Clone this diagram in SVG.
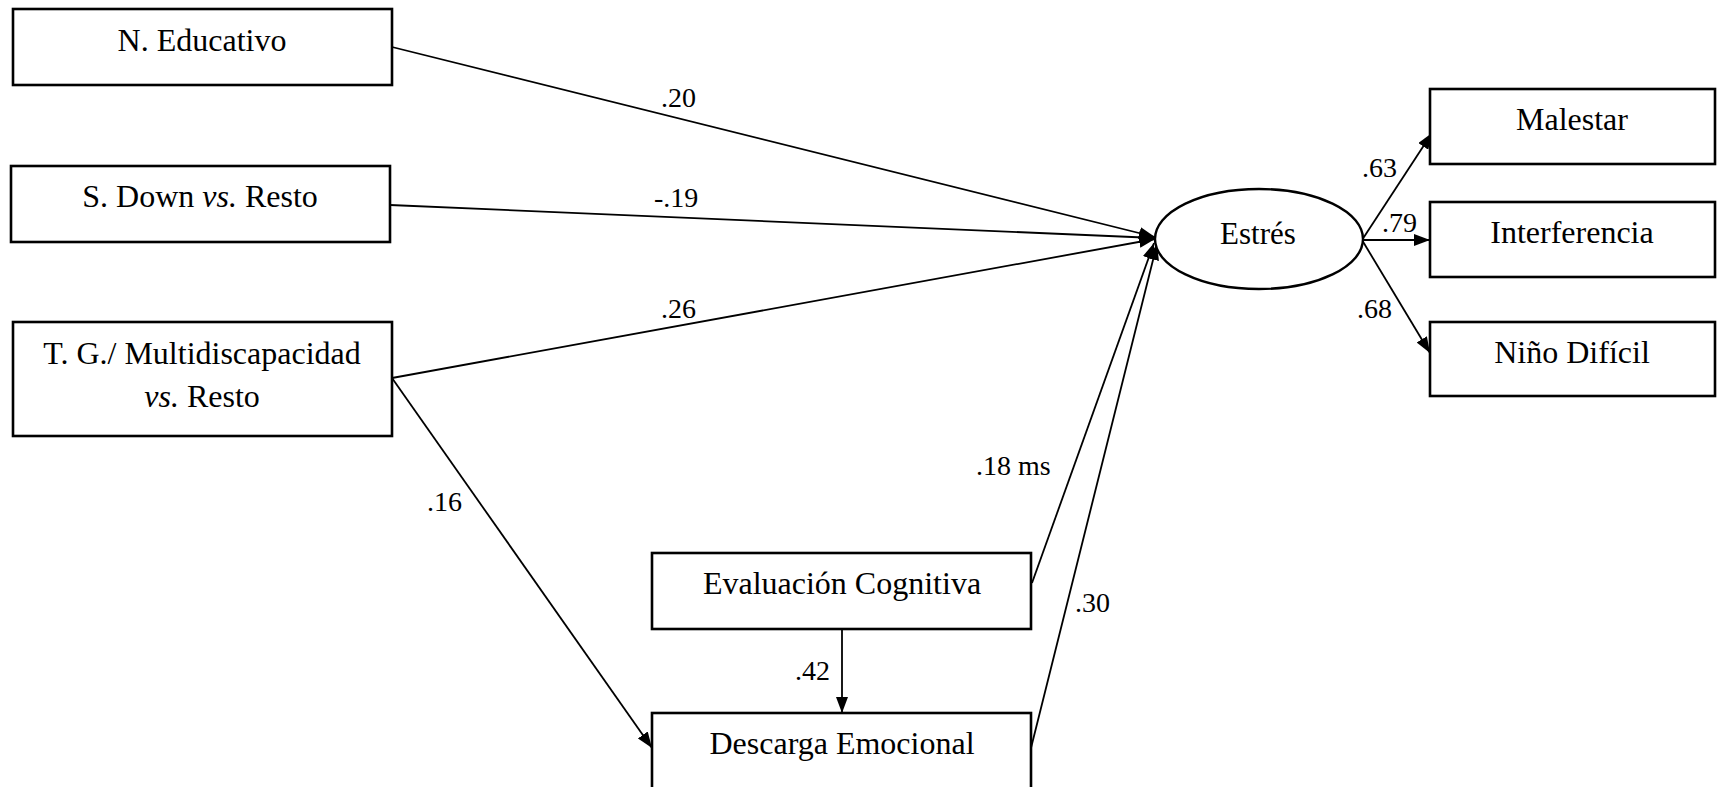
<svg xmlns="http://www.w3.org/2000/svg" width="1717" height="787" viewBox="0 0 1717 787">
  <style>
    .box { fill: #fff; stroke: #000; stroke-width: 2.6; }
    .lat { fill: #fff; stroke: #000; stroke-width: 2.4; }
    .lbl { font-family: "Liberation Serif", "Times New Roman", serif; font-size: 32px; fill: #000; text-anchor: middle; }
    .est { font-family: "Liberation Serif", "Times New Roman", serif; font-size: 31px; fill: #000; text-anchor: middle; }
    .coef { font-family: "Liberation Serif", "Times New Roman", serif; font-size: 28px; fill: #000; }
    .path { fill: none; stroke: #000; stroke-width: 1.8; marker-end: url(#arrow); }
  </style>
  <defs>
    <marker id="arrow" markerUnits="userSpaceOnUse" markerWidth="16" markerHeight="12" refX="16" refY="6" orient="auto">
      <path d="M0,0 L16,6 L0,12 z" fill="#000"/>
    </marker>
  </defs>
  <rect width="1717" height="787" fill="#fff"/>

  <!-- structural paths -->
  <g id="connectors">
    <line class="path" x1="392" y1="47" x2="1155" y2="237"/>
    <line class="path" x1="390" y1="205" x2="1155" y2="238"/>
    <line class="path" x1="392" y1="378" x2="1155" y2="239"/>
    <line class="path" x1="1032" y1="583" x2="1154" y2="243"/>
    <line class="path" x1="1031" y1="748" x2="1157" y2="244"/>
    <line class="path" x1="392" y1="378" x2="652" y2="748"/>
    <line class="path" x1="842" y1="629" x2="842" y2="713"/>
    <line class="path" x1="1362" y1="240" x2="1432" y2="133"/>
    <line class="path" x1="1362" y1="240" x2="1430" y2="240"/>
    <line class="path" x1="1362" y1="240" x2="1430" y2="353"/>
  </g>

  <!-- path coefficients -->
  <g id="coefficients">
    <text class="coef" x="661" y="107">.20</text>
    <text class="coef" x="654" y="207">-.19</text>
    <text class="coef" x="661" y="318">.26</text>
    <text class="coef" x="427" y="511">.16</text>
    <text class="coef" x="976" y="475">.18 ms</text>
    <text class="coef" x="1075" y="612">.30</text>
    <text class="coef" x="795" y="680">.42</text>
    <text class="coef" x="1362" y="177">.63</text>
    <text class="coef" x="1382" y="232">.79</text>
    <text class="coef" x="1357" y="318">.68</text>
  </g>

  <g id="n-educativo">
    <rect class="box" x="13" y="9" width="379" height="76"/>
    <text class="lbl" x="202" y="51">N. Educativo</text>
  </g>

  <g id="s-down">
    <rect class="box" x="11" y="166" width="379" height="76"/>
    <text class="lbl" x="200" y="207">S. Down <tspan font-style="italic">vs.</tspan> Resto</text>
  </g>

  <g id="tg-multidiscapacidad">
    <rect class="box" x="13" y="322" width="379" height="114"/>
    <text class="lbl" x="202" y="364">T. G./ Multidiscapacidad</text>
    <text class="lbl" x="202" y="407"><tspan font-style="italic">vs.</tspan> Resto</text>
  </g>

  <g id="evaluacion-cognitiva">
    <rect class="box" x="652" y="553" width="379" height="76"/>
    <text class="lbl" x="842" y="594">Evaluación Cognitiva</text>
  </g>

  <g id="descarga-emocional">
    <rect class="box" x="652" y="713" width="379" height="90"/>
    <text class="lbl" x="842" y="754">Descarga Emocional</text>
  </g>

  <g id="estres">
    <ellipse class="lat" cx="1259" cy="239" rx="104" ry="50"/>
    <text class="est" x="1258" y="244">Estrés</text>
  </g>

  <g id="malestar">
    <rect class="box" x="1430" y="89" width="285" height="75"/>
    <text class="lbl" x="1572" y="130">Malestar</text>
  </g>

  <g id="interferencia">
    <rect class="box" x="1430" y="202" width="285" height="75"/>
    <text class="lbl" x="1572" y="243">Interferencia</text>
  </g>

  <g id="nino-dificil">
    <rect class="box" x="1430" y="322" width="285" height="74"/>
    <text class="lbl" x="1572" y="363">Niño Difícil</text>
  </g>
</svg>
